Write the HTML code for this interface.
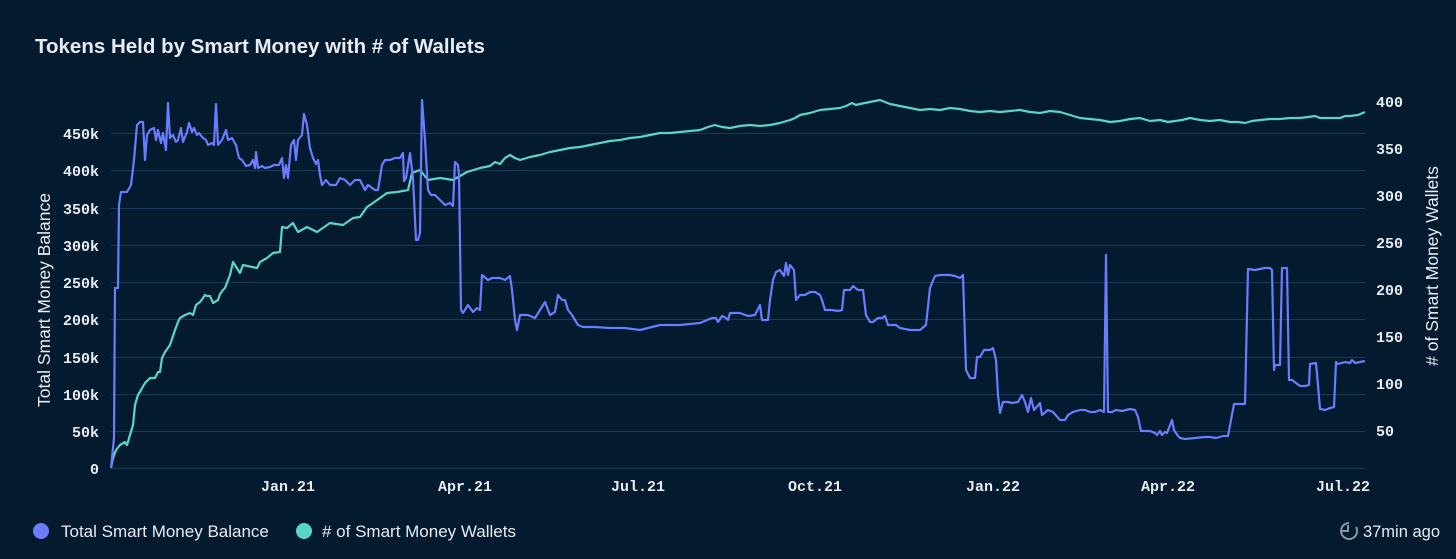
<!DOCTYPE html>
<html><head><meta charset="utf-8"><style>
html,body{margin:0;padding:0;background:#031a2f;}
svg{display:block}
.t{font-family:"Liberation Mono",monospace;font-weight:bold;font-size:15px;fill:#e8ecf2}
.s{font-family:"Liberation Sans",sans-serif;fill:#e8ecf2}
</style></head><body>
<svg width="1456" height="559" viewBox="0 0 1456 559" xmlns="http://www.w3.org/2000/svg">
<rect width="1456" height="559" fill="#031a2f"/>
<text x="35" y="53" class="s" font-size="20.5" font-weight="bold" fill="#fff">Tokens Held by Smart Money with # of Wallets</text>
<g stroke="#1b3a55" stroke-width="1">
<line x1="111" x2="1365" y1="468.5" y2="468.5"/><line x1="111" x2="1365" y1="431.5" y2="431.5"/>
<line x1="111" x2="1365" y1="394.5" y2="394.5"/><line x1="111" x2="1365" y1="357.5" y2="357.5"/>
<line x1="111" x2="1365" y1="319.5" y2="319.5"/><line x1="111" x2="1365" y1="282.5" y2="282.5"/>
<line x1="111" x2="1365" y1="245.5" y2="245.5"/><line x1="111" x2="1365" y1="208.5" y2="208.5"/>
<line x1="111" x2="1365" y1="170.5" y2="170.5"/><line x1="111" x2="1365" y1="133.5" y2="133.5"/>
</g>
<g class="t" text-anchor="end">
<text x="99" y="474">0</text><text x="99" y="437">50k</text><text x="99" y="400">100k</text>
<text x="99" y="363">150k</text><text x="99" y="325">200k</text><text x="99" y="288">250k</text>
<text x="99" y="251">300k</text><text x="99" y="214">350k</text><text x="99" y="176">400k</text>
<text x="99" y="139">450k</text>
</g>
<g class="t">
<text x="1376" y="107">400</text><text x="1376" y="154">350</text><text x="1376" y="201">300</text>
<text x="1376" y="248">250</text><text x="1376" y="295">200</text><text x="1376" y="342">150</text>
<text x="1376" y="389">100</text><text x="1376" y="436">50</text>
</g>
<g class="t" text-anchor="middle">
<text x="288" y="491">Jan.21</text><text x="465" y="491">Apr.21</text><text x="638" y="491">Jul.21</text>
<text x="815" y="491">Oct.21</text><text x="993" y="491">Jan.22</text><text x="1168" y="491">Apr.22</text>
<text x="1343" y="491">Jul.22</text>
</g>
<text class="s" font-size="17.5" transform="translate(50,300) rotate(-90)" text-anchor="middle">Total Smart Money Balance</text>
<text class="s" font-size="17.5" transform="translate(1438,266) rotate(-90)" text-anchor="middle"># of Smart Money Wallets</text>
<polyline fill="none" stroke="#5ad6c6" stroke-width="2.2" stroke-linejoin="round" points="111,468 113,458 116,450 120,445 125,442 127,445 130,435 133,425 135,405 138,395 141,390 145,383 150,378 155,378 158,372 160,372 162,358 165,352 170,345 175,330 178,322 180,318 185,315 190,313 193,315 196,305 200,302 203,298 205,295 207,296 210,296 213,303 218,300 220,294 223,290 225,288 228,280 230,275 233,262 240,273 243,265 257,268 260,262 267,258 273,253 280,252 282,227 287,228 293,223 298,232 307,227 317,232 330,223 343,225 353,218 360,217 367,207 373,203 387,193 397,192 408,190 412,173 420,170 428,180 440,178 453,180 467,172 480,168 490,166 495,162 500,164 505,158 510,155 515,158 520,160 530,157 540,155 550,152 560,150 570,148 580,147 590,145 600,143 610,141 620,140 630,138 640,137 650,135 660,133 670,133 680,132 690,131 700,130 708,127 715,125 722,127 730,128 740,126 750,125 760,126 770,125 780,123 790,120 795,118 800,115 810,113 820,110 830,109 840,108 846,106 852,103 856,105 860,104 870,102 880,100 890,104 900,106 910,108 920,110 930,109 940,110 950,108 960,109 970,111 980,112 990,111 1000,112 1010,111 1020,110 1030,112 1040,113 1050,111 1060,112 1070,115 1080,118 1090,119 1100,120 1110,122 1120,121 1130,119 1140,118 1150,121 1160,120 1168,122 1175,121 1182,120 1190,118 1200,120 1210,121 1220,120 1230,122 1238,122 1245,123 1252,121 1260,120 1270,119 1280,119 1290,118 1300,118 1308,117 1315,116 1320,118 1330,118 1340,118 1345,116 1350,116 1358,115 1365,112"/>
<polyline fill="none" stroke="#6b7cff" stroke-width="2.2" stroke-linejoin="round" points="111,468 114,438 115,288 118,288 119,205 121,192 127,192 131,185 134,160 137,125 140,122 143,122 145,160 147,135 150,130 154,128 156,140 158,130 161,143 163,133 166,150 168,103 170,138 173,135 176,142 178,140 181,128 183,142 187,132 189,123 192,132 194,128 197,135 199,133 203,138 206,140 208,145 212,143 214,145 216,104 218,145 222,140 226,130 228,140 232,138 236,145 239,158 242,160 246,166 250,165 253,160 255,168 256,152 258,168 262,166 265,168 270,167 274,165 279,165 282,158 284,178 286,165 288,178 291,145 294,140 296,160 298,140 302,135 304,114 307,125 310,148 313,158 316,164 318,160 320,175 322,185 326,180 330,185 336,185 340,178 345,180 350,185 355,180 360,180 365,190 368,185 375,190 378,190 382,165 385,160 390,160 395,158 400,158 403,153 404,181 406,178 410,153 413,178 416,240 418,240 420,233 422,100 425,140 428,190 431,195 435,195 440,200 445,205 450,203 453,206 455,162 458,165 459,175 461,310 463,313 468,305 473,312 477,308 480,310 482,275 488,280 492,278 500,278 505,280 510,276 512,290 515,320 517,330 520,315 528,315 535,318 540,310 545,302 550,315 555,312 558,295 562,300 565,300 568,310 572,315 578,325 583,327 595,327 610,328 625,328 640,330 660,325 680,325 700,323 712,318 716,318 718,322 722,316 726,318 728,320 730,313 740,313 748,316 755,315 760,305 762,320 768,320 770,300 773,280 776,272 780,270 784,276 786,263 788,275 790,265 794,270 796,300 800,295 805,295 810,292 815,292 820,295 822,300 825,310 832,310 838,311 842,310 844,290 850,290 853,286 858,290 863,290 866,315 870,322 873,322 878,318 882,318 885,316 888,325 892,325 896,325 900,328 910,330 920,330 926,325 930,288 935,276 940,275 945,275 950,275 955,276 960,278 963,275 966,370 970,378 975,378 977,357 980,357 984,350 990,350 993,348 996,360 998,395 1000,413 1003,402 1008,402 1012,403 1018,402 1022,395 1025,402 1028,412 1031,398 1034,410 1040,403 1042,415 1048,410 1053,412 1060,420 1065,420 1068,415 1073,412 1080,410 1085,410 1090,412 1095,412 1100,410 1104,412 1106,255 1108,412 1112,412 1116,410 1122,411 1130,409 1135,410 1138,417 1141,431 1145,431 1150,431 1155,433 1157,435 1160,431 1162,435 1165,432 1167,433 1172,420 1174,430 1178,436 1180,438 1185,439 1195,438 1205,437 1210,437 1216,438 1223,436 1228,436 1234,404 1240,404 1245,404 1248,269 1255,270 1260,269 1265,268 1270,268 1272,270 1274,370 1275,365 1280,365 1282,268 1285,268 1287,268 1289,380 1292,380 1300,386 1305,386 1309,385 1310,364 1316,363 1318,385 1320,409 1325,410 1330,408 1334,407 1336,362 1338,364 1345,362 1350,363 1352,360 1355,363 1360,362 1365,361"/>
<circle cx="41" cy="531" r="8" fill="#6b7cff"/>
<text x="61" y="537" class="s" font-size="17">Total Smart Money Balance</text>
<circle cx="304" cy="531" r="8" fill="#5ad6c6"/>
<text x="322" y="537" class="s" font-size="17"># of Smart Money Wallets</text>
<g fill="none" stroke="#8a96a6" stroke-width="2"><path d="M1349,523 a8,8 0 1 0 7,4"/><path d="M1342,531 h6 v-6"/></g>
<text x="1440" y="537" class="s" font-size="16.5" fill="#8a96a6" text-anchor="end">37min ago</text>
</svg>
</body></html>
